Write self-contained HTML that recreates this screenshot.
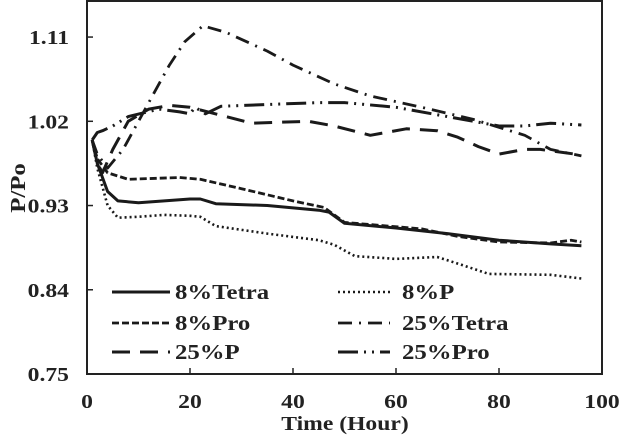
<!DOCTYPE html>
<html><head><meta charset="utf-8"><style>
html,body{margin:0;padding:0;background:#fff;}
svg{display:block;font-family:"Liberation Serif",serif;font-weight:bold;}
</style></head><body>
<svg id="chart" width="620" height="436" viewBox="0 0 620 436" xmlns="http://www.w3.org/2000/svg">
<g id="plot"></g>
</svg>
<script>
const xTicks=[0,20,40,60,80,100];
const yTicks=[0.75,0.84,0.93,1.02,1.11];
const yTickLabels=["0.75","0.84","0.93","1.02","1.11"];
const seriesNames=["8%Tetra","8%P","8%Pro","25%Tetra","25%P","25%Pro"];
const t8Tetra_x=[1,2,4,6,10,15,20,22,25,35,45,47,50,60,70,80,90,96];
const t8Tetra_y=[1.0,0.975,0.945,0.935,0.933,0.935,0.937,0.937,0.932,0.93,0.925,0.923,0.911,0.906,0.900,0.893,0.889,0.887];
const p8_x=[1,2,4,6,10,15,20,22,25,35,45,48,52,60,68,72,78,90,96];
const p8_y=[1.0,0.97,0.93,0.917,0.918,0.920,0.919,0.918,0.908,0.900,0.893,0.888,0.876,0.873,0.875,0.868,0.857,0.856,0.852];
const pro8_x=[1,2,4,8,18,22,30,40,46,50,65,72,80,90,94,96];
const pro8_y=[1.0,0.98,0.965,0.958,0.960,0.958,0.948,0.935,0.928,0.912,0.905,0.897,0.891,0.890,0.893,0.891];
const t25_x=[1,2,4,7,10,13,16,19,22.5,27,35,40,48,55,65,75,85,90,96];
const t25_y=[1.0,0.985,0.97,0.99,1.02,1.05,1.08,1.105,1.122,1.115,1.095,1.08,1.06,1.047,1.035,1.022,1.005,0.99,0.983];
const p25_x=[1,2,3,5,8,12,16,20,27,32,43,48,55,62,68,72,76,80,85,88,96];
const p25_y=[1.0,0.975,0.965,0.99,1.02,1.033,1.037,1.035,1.025,1.018,1.02,1.015,1.005,1.012,1.01,1.003,0.993,0.985,0.99,0.99,0.984];
const pro25_x=[1,2,3,5,8,14,18,20,21,23,26,35,45,50,60,70,80,85,90,96];
const pro25_y=[1.0,1.008,1.01,1.015,1.025,1.033,1.03,1.028,1.035,1.028,1.036,1.038,1.040,1.040,1.035,1.025,1.015,1.015,1.018,1.016];
const L=87,R=602,T=0,B=374;
const xs=v=>L+(v-0)/100*(R-L);
const ys=v=>B-(v-0.75)/(1.1496-0.75)*(B-T);
const NS="http://www.w3.org/2000/svg";
const g=document.getElementById('plot');
const texts=[];
function mk(tag,attrs){const e=document.createElementNS(NS,tag);for(const k in attrs)e.setAttribute(k,attrs[k]);g.appendChild(e);if(tag==='text')texts.push(e);return e;}
const frame=mk('rect',{x:L,y:T+1,width:R-L,height:B-T-1,fill:'none',stroke:'#222','stroke-width':2});


xTicks.forEach((v,i)=>{
  const tk=mk('line',{x1:xs(v),x2:xs(v),y1:B,y2:B-6,stroke:'#222','stroke-width':1.5});
  
  
  const t=mk('text',{x:xs(v),y:408,'text-anchor':'middle','font-size':20,fill:'#222'});
  t.textContent=String(v);
  
  
});
yTicks.forEach((v,i)=>{
  const tk=mk('line',{x1:L,x2:L+6,y1:ys(v),y2:ys(v),stroke:'#222','stroke-width':1.5});
  
  
  const t=mk('text',{x:69,y:ys(v)+7,'text-anchor':'end','font-size':20,fill:'#222'});
  t.textContent=yTickLabels[i];
  
  
});
const xt=mk('text',{x:345,y:430,'text-anchor':'middle','font-size':20,fill:'#222'});
xt.textContent='Time (Hour)';


const yt=mk('text',{x:0,y:0,'text-anchor':'middle','font-size':21,fill:'#222',transform:'translate(25,188) rotate(-90)'});
yt.textContent='P/Po';


const styles=[
 {d:'none',w:3,cap:'butt'},
 {d:'2 3',w:2.6,cap:'butt'},
 {d:'7 3',w:2.8,cap:'butt'},
 {d:'14 7 2 7',w:2.8,cap:'butt'},
 {d:'18 10',w:3,cap:'butt'},
 {d:'20 6 2 6 2 6',w:3,cap:'butt'}
];
const data=[[t8Tetra_x,t8Tetra_y],[p8_x,p8_y],[pro8_x,pro8_y],[t25_x,t25_y],[p25_x,p25_y],[pro25_x,pro25_y]];
data.forEach((s,i)=>{
  const pts=s[0].map((x,j)=>xs(x).toFixed(1)+','+ys(s[1][j]).toFixed(1)).join(' ');
  const pl=mk('polyline',{points:pts,fill:'none',stroke:'#1a1a1a','stroke-width':styles[i].w,'stroke-dasharray':styles[i].d,'stroke-linejoin':'round'});
  
  
});
const legPos=[[112,170,175,292],[338,390,402,292],[112,170,175,323],[338,390,402,323],[112,170,175,352],[338,390,402,352]];
seriesNames.forEach((n,i)=>{
  const p=legPos[i];
  const ln=mk('line',{x1:p[0],x2:p[1],y1:p[3],y2:p[3],stroke:'#1a1a1a','stroke-width':styles[i].w,'stroke-dasharray':styles[i].d});
  
  
  const t=mk('text',{x:p[2],y:p[3]+7,'font-size':21,fill:'#222'});
  t.textContent=n;
  
  
});
texts.forEach(t=>{
  const w=t.getComputedTextLength();
  if(w>0){t.setAttribute('textLength',(w*1.18).toFixed(1));t.setAttribute('lengthAdjust','spacingAndGlyphs');}
});
</script>
</body></html>
